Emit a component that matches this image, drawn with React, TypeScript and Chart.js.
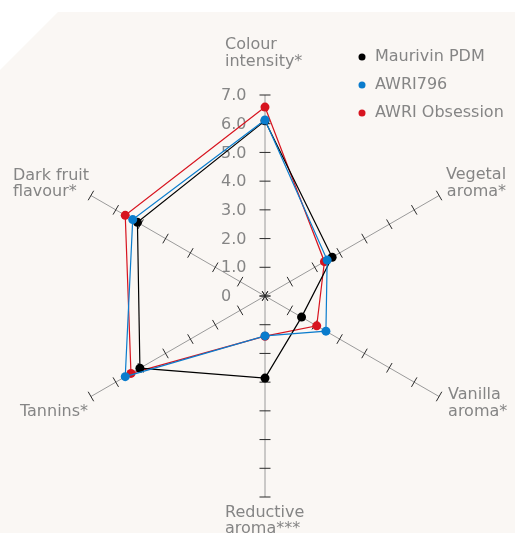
import React, { useEffect, useRef } from "react";
import { Chart, registerables } from "chart.js";
Chart.register(...registerables);

// ---- data ----
const categories: string[][] = [
  ["Colour", "intensity*"],
  ["Vegetal", "aroma*"],
  ["Vanilla", "aroma*"],
  ["Reductive", "aroma***"],
  ["Tannins*"],
  ["Dark fruit", "flavour*"],
];
const seriesNames = ["Maurivin PDM", "AWRI796", "AWRI Obsession"];
const maurivinPDM = [6.1, 2.7, 1.47, 2.86, 5.03, 5.13];
const awri796 = [6.13, 2.5, 2.45, 1.39, 5.62, 5.32];
const awriObsession = [6.58, 2.39, 2.08, 1.4, 5.39, 5.62];
const tickValues = [0, 1, 2, 3, 4, 5, 6, 7];
const tickLabels = ["0", "1.0", "2.0", "3.0", "4.0", "5.0", "6.0", "7.0"];

// ---- styles ----
const seriesColors = ["#000000", "#0a7ccd", "#d7141f"];
const seriesOrder = [1, 0, 2];
const textColor = "#858585";
const FONT = "16px 'DejaVu Sans', sans-serif";
// label offsets relative to the axis end point
const labelLayout = [
  { dx: -40, dy: -50, align: "left" },
  { dx: 67, dy: -20.5, align: "right" },
  { dx: 9, dy: -1.5, align: "left" },
  { dx: -40, dy: 15.5, align: "left" },
  { dx: -71, dy: 15, align: "left" },
  { dx: -78, dy: -20, align: "left" },
];
const LINE_H = 16.5;

const decorPlugin = {
  id: "radarDecor",
  beforeDatasetsDraw(chart: any) {
    const scale = chart.scales.r;
    const ctx = chart.ctx as CanvasRenderingContext2D;
    ctx.save();
    ctx.strokeStyle = "#2a2a2a";
    ctx.lineWidth = 1;
    for (let i = 0; i < categories.length; i++) {
      const ang = scale.getIndexAngle(i) - Math.PI / 2;
      const px = -Math.sin(ang);
      const py = Math.cos(ang);
      for (const v of tickValues) {
        const p = scale.getPointPositionForValue(i, v);
        ctx.beginPath();
        ctx.moveTo(p.x - px * 5.5, p.y - py * 5.5);
        ctx.lineTo(p.x + px * 5.5, p.y + py * 5.5);
        ctx.stroke();
      }
    }
    ctx.fillStyle = textColor;
    ctx.font = FONT;
    ctx.textAlign = "left";
    ctx.textBaseline = "middle";
    tickValues.forEach((v, k) => {
      const p = scale.getPointPositionForValue(0, v);
      ctx.fillText(tickLabels[k], p.x - 44, p.y + 1);
    });
    ctx.restore();
  },
  afterDraw(chart: any) {
    const scale = chart.scales.r;
    const ctx = chart.ctx as CanvasRenderingContext2D;
    ctx.save();
    ctx.fillStyle = textColor;
    ctx.font = FONT;
    ctx.textBaseline = "middle";
    categories.forEach((lines, i) => {
      const end = scale.getPointPositionForValue(i, scale.max);
      const L = labelLayout[i];
      ctx.textAlign = L.align as CanvasTextAlign;
      lines.forEach((t, j) => {
        ctx.fillText(t, end.x + L.dx, end.y + L.dy + j * LINE_H);
      });
    });
    // legend
    const lx = 362;
    const ly = 57;
    seriesNames.forEach((name, k) => {
      ctx.fillStyle = seriesColors[k];
      ctx.beginPath();
      ctx.arc(lx, ly + k * 28, 3.5, 0, Math.PI * 2);
      ctx.fill();
      ctx.fillStyle = textColor;
      ctx.textAlign = "left";
      ctx.fillText(name, lx + 13, ly + k * 28);
    });
    ctx.restore();
  },
};

export default function App() {
  const ref = useRef<HTMLCanvasElement | null>(null);
  useEffect(() => {
    if (!ref.current) return;
    const seriesValues = [maurivinPDM, awri796, awriObsession];
    const chart = new Chart(ref.current, {
      type: "radar",
      data: {
        labels: categories.map((c) => c.join(" ")),
        datasets: seriesNames.map((name, k) => ({
          label: name,
          data: seriesValues[k],
          borderColor: seriesColors[k],
          backgroundColor: seriesColors[k],
          pointBackgroundColor: seriesColors[k],
          pointBorderWidth: 0,
          pointRadius: 4.5,
          borderWidth: 1.2,
          fill: false,
          order: seriesOrder[k],
        })),
      },
      options: {
        responsive: false,
        animation: false,
        layout: { padding: { left: 64, right: 49, top: 95, bottom: 36 } },
        plugins: { legend: { display: false }, tooltip: { enabled: false } },
        elements: { line: { tension: 0 } },
        scales: {
          r: {
            min: 0,
            max: 7,
            grid: { display: false },
            angleLines: { display: true, color: "#9a9a9a", lineWidth: 1 },
            ticks: { display: false, stepSize: 1 },
            pointLabels: { display: false },
          },
        },
      },
      plugins: [decorPlugin],
    });
    return () => chart.destroy();
  }, []);
  return (
    <div style={{ position: "fixed", left: 0, top: 0, width: 515, height: 533, background: "#ffffff" }}>
      <div
        style={{
          position: "absolute",
          left: 0,
          top: 0,
          width: 515,
          height: 533,
          background: "#faf7f4",
          clipPath: "polygon(58px 12px, 515px 12px, 515px 533px, 0px 533px, 0px 70px)",
        }}
      />
      <canvas ref={ref} width={515} height={533} style={{ position: "absolute", left: 0, top: 0 }} />
    </div>
  );
}
